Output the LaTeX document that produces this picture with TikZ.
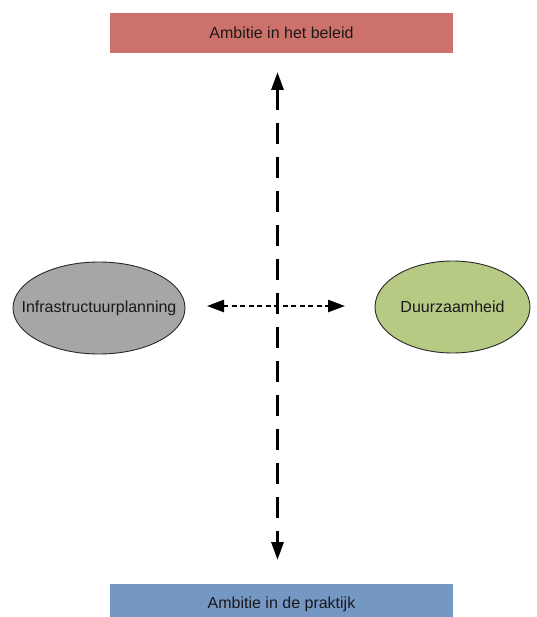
\documentclass[tikz,border=0pt]{standalone}
\usepackage{fontspec}
\setmainfont{Liberation Sans}
\usetikzlibrary{arrows.meta,shapes.geometric}

\definecolor{policyred}{RGB}{205,114,107}
\definecolor{practiceblue}{RGB}{117,151,196}
\definecolor{planninggray}{RGB}{166,166,166}
\definecolor{sustaingreen}{RGB}{182,202,132}
\definecolor{outline}{RGB}{40,40,40}

\tikzset{
  bar/.style={rectangle, draw=none, minimum width=343pt, minimum height=40pt,
              inner sep=0pt, font=\fontsize{16}{19}\selectfont, text=black!90},
  blob/.style={ellipse, draw=outline, line width=0.9pt, inner sep=0pt,
               font=\fontsize{16}{19}\selectfont, text=black!90},
  axis/.style={line width=3pt, dash pattern=on 21pt off 13pt,
               {Triangle[length=18pt,width=12pt]}-{Triangle[length=18pt,width=12pt]}},
  link/.style={line width=2.4pt, dash pattern=on 5pt off 3.5pt,
               {Triangle[length=17pt,width=12pt]}-{Triangle[length=17pt,width=12pt]}}
}

\begin{document}
\begin{tikzpicture}[x=1pt,y=-1pt]
  \useasboundingbox (0,0) rectangle (536,617);
  \clip (0,0) rectangle (536,617);

  % policy and practice bars
  \node[bar, fill=policyred] (beleid) at (281.5,33) {Ambitie in het beleid};
  \node[bar, fill=practiceblue] (praktijk) at (281.5,604) {Ambitie in de praktijk};

  % the two themes (zero-width labels so the ellipse keeps its own size)
  \node[blob, fill=planninggray, minimum width=172pt, minimum height=92pt]
    (infra) at (99,308) {\makebox[0pt]{Infrastructuurplanning}};
  \node[blob, fill=sustaingreen, minimum width=155pt, minimum height=92pt]
    (duurzaam) at (452.5,307) {\makebox[0pt]{Duurzaamheid}};

  % arrow end points
  \coordinate (vtop) at (277.5,72);
  \coordinate (vbot) at (277.5,560);
  \coordinate (hleft) at (207,306);
  \coordinate (hright) at (345,306);

  \draw[axis] (vtop) -- (vbot);
  \draw[link] (hleft) -- (hright);
\end{tikzpicture}
\end{document}
